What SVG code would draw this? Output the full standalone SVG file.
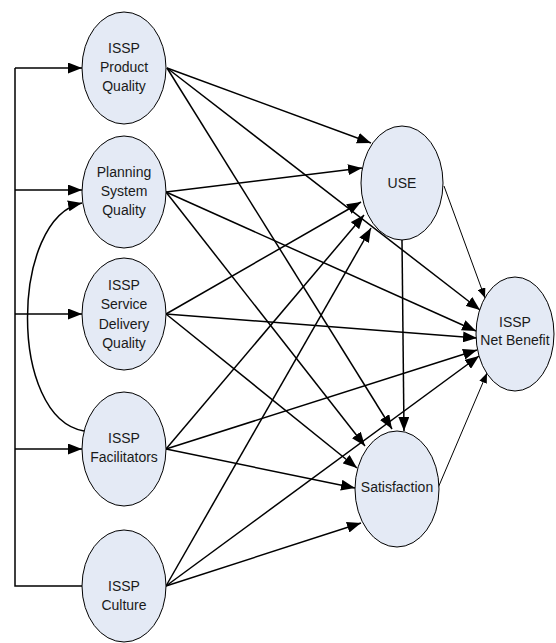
<svg xmlns="http://www.w3.org/2000/svg" width="556" height="643" viewBox="0 0 556 643">
<style>
.node ellipse{fill:#E4EAF5;stroke:#000;stroke-width:1}
.node text{font-family:"Liberation Sans Narrow","Liberation Sans",Arial,sans-serif;font-size:14px;fill:#1a1a1a;text-anchor:middle}
.e{fill:none;stroke:#000;stroke-width:1.5;marker-end:url(#ah)}
.t{fill:none;stroke:#000;stroke-width:1;marker-end:url(#ahs)}
.p{fill:none;stroke:#000;stroke-width:1.5}
</style>
<defs>
<marker id="ah" markerUnits="userSpaceOnUse" markerWidth="14" markerHeight="11" viewBox="0 0 14 11" refX="14" refY="5.5" orient="auto"><path d="M0,0 L14,5.5 L0,11 z" fill="#000"/></marker>
<marker id="ahs" markerUnits="userSpaceOnUse" markerWidth="10" markerHeight="8" viewBox="0 0 10 8" refX="10" refY="4" orient="auto"><path d="M0,0 L10,4 L0,8 z" fill="#000"/></marker>
</defs>
<rect width="556" height="643" fill="#fff"/>
<g id="connectors">
<path class="p" d="M82,586 H15 V68"/>
<path class="e" d="M15,68 H82"/>
<path class="e" d="M15,190 H82"/>
<path class="e" d="M15,314 H82"/>
<path class="e" d="M15,449 H82"/>
<path class="e" d="M84,431 C8,418 10,218 82,203"/>
<path class="e" d="M167,68 L371,143"/>
<path class="e" d="M167,68 L480,310"/>
<path class="e" d="M167,68 L392,429"/>
<path class="e" d="M166,192 L362,168"/>
<path class="e" d="M166,192 L476,331"/>
<path class="e" d="M166,192 L365,446"/>
<path class="e" d="M166,314 L361,202"/>
<path class="e" d="M166,314 L477,338"/>
<path class="e" d="M166,314 L357,468"/>
<path class="e" d="M166,449 L364,215"/>
<path class="e" d="M166,449 L477,350"/>
<path class="e" d="M166,449 L355,488"/>
<path class="e" d="M166,586 L371,228"/>
<path class="e" d="M166,586 L479,356"/>
<path class="e" d="M166,586 L361,523"/>
<path class="e" d="M402,240 L404,431"/>
<path class="t" d="M444,186 L485,298"/>
<path class="t" d="M438,488 L487,373"/>
</g>
<g id="product" class="node"><ellipse cx="124" cy="68" rx="42" ry="56"/><text x="124" y="53">ISSP</text><text x="124" y="72">Product</text><text x="124" y="91">Quality</text></g>
<g id="planning" class="node"><ellipse cx="124" cy="192" rx="42" ry="56"/><text x="124" y="177">Planning</text><text x="124" y="196">System</text><text x="124" y="215">Quality</text></g>
<g id="service" class="node"><ellipse cx="124" cy="314" rx="42" ry="56"/><text x="124" y="290">ISSP</text><text x="124" y="309">Service</text><text x="124" y="329">Delivery</text><text x="124" y="348">Quality</text></g>
<g id="facilitators" class="node"><ellipse cx="124" cy="449" rx="42" ry="57"/><text x="124" y="443">ISSP</text><text x="124" y="462">Facilitators</text></g>
<g id="culture" class="node"><ellipse cx="124" cy="586" rx="42" ry="56"/><text x="124" y="591">ISSP</text><text x="124" y="610">Culture</text></g>
<g id="use" class="node"><ellipse cx="402" cy="183" rx="41" ry="57"/><text x="402" y="188">USE</text></g>
<g id="satisfaction" class="node"><ellipse cx="397" cy="489" rx="42" ry="58"/><text x="397" y="492">Satisfaction</text></g>
<g id="netbenefit" class="node"><ellipse cx="515" cy="334" rx="39" ry="57"/><text x="515" y="327">ISSP</text><text x="515" y="345">Net Benefit</text></g>
</svg>
